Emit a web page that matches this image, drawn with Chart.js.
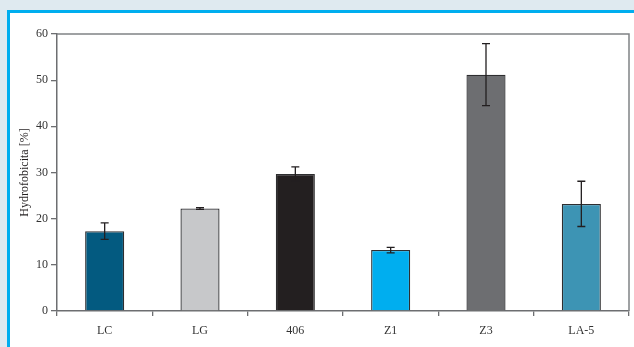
<!DOCTYPE html>
<html><head><meta charset="utf-8">
<script src="https://cdn.jsdelivr.net/npm/chart.js@4"></script>
<style>
html,body{margin:0;padding:0;width:634px;height:347px;overflow:hidden;background:#dfeaf0;}
#frame{position:absolute;left:7px;top:10px;width:640px;height:350px;border-left:3px solid #00aeef;border-top:3px solid #00aeef;background:#fff;}
#wrap{position:absolute;left:0;top:0;width:634px;height:347px;}
</style></head><body>
<div id="frame"></div>
<div id="wrap"><canvas id="c" width="634" height="347"></canvas></div>
<script>
const categories = ['LC','LG','406','Z1','Z3','LA-5'];
const values = [17.3, 22.2, 29.7, 13.2, 51.2, 23.2];
const errors = [1.8, 0.2, 1.5, 0.6, 6.7, 4.9];
const barColors = ['#035a80','#c7c8ca','#231f20','#00aeef','#6d6e71','#3d94b4'];
const yTicks = [0,10,20,30,40,50,60];
const yTitle = 'Hydrofobicita [%]';

const SERIF = '"Liberation Serif", "DejaVu Serif", serif';

const errorBars = {
  id:'errorBars',
  afterDatasetsDraw(chart){
    const ctx = chart.ctx, y = chart.scales.y;
    const meta = chart.getDatasetMeta(0);
    ctx.save();
    ctx.strokeStyle = '#231f20';
    ctx.lineWidth = 1.3;
    meta.data.forEach((bar,i)=>{
      const x = bar.x;
      const yt = y.getPixelForValue(values[i]+errors[i]);
      const yb = y.getPixelForValue(values[i]-errors[i]);
      ctx.beginPath();
      ctx.moveTo(x,yt); ctx.lineTo(x,yb);
      ctx.moveTo(x-4,yt); ctx.lineTo(x+4,yt);
      ctx.moveTo(x-4,yb); ctx.lineTo(x+4,yb);
      ctx.stroke();
    });
    ctx.restore();
  }
};
const frameBox = {
  id:'frameBox',
  beforeDatasetsDraw(chart){
    const a = chart.chartArea, ctx = chart.ctx;
    ctx.save();
    ctx.strokeStyle = '#808285';
    ctx.lineWidth = 1.5;
    ctx.beginPath();
    ctx.moveTo(a.left, a.top); ctx.lineTo(a.right, a.top); ctx.lineTo(a.right, a.bottom);
    ctx.stroke();
    ctx.restore();
  }
};

new Chart(document.getElementById('c'), {
  type:'bar',
  data:{
    labels: categories,
    datasets:[{
      data: values,
      backgroundColor: barColors,
      borderColor: '#2e2e30',
      borderWidth: 1.3,
      categoryPercentage: 1,
      barPercentage: 0.41
    }]
  },
  options:{
    responsive:false,
    animation:false,
    devicePixelRatio:1,
    layout:{padding:{left:18,right:5,top:34,bottom:0}},
    plugins:{legend:{display:false},tooltip:{enabled:false}},
    scales:{
      x:{
        grid:{display:true,drawOnChartArea:false,offset:true,color:'#6d6e71',tickLength:5,lineWidth:1.3},
        border:{color:'#6d6e71',width:1.5},
        ticks:{color:'#333',font:{family:SERIF,size:12},padding:8},
        afterFit(s){s.height=36;}
      },
      y:{
        min:0,max:60,
        afterBuildTicks(s){s.ticks = yTicks.map(v=>({value:v}));},
        grid:{display:true,drawOnChartArea:false,color:'#6d6e71',tickLength:6,lineWidth:1.3},
        border:{color:'#6d6e71',width:1.5},
        ticks:{color:'#333',font:{family:SERIF,size:12},padding:3},
        title:{display:true,text:yTitle,color:'#231f20',font:{family:SERIF,size:12},padding:{top:0,bottom:2}},
        afterFit(s){s.width=39;}
      }
    }
  },
  plugins:[frameBox,errorBars]
});
</script>
</body></html>
